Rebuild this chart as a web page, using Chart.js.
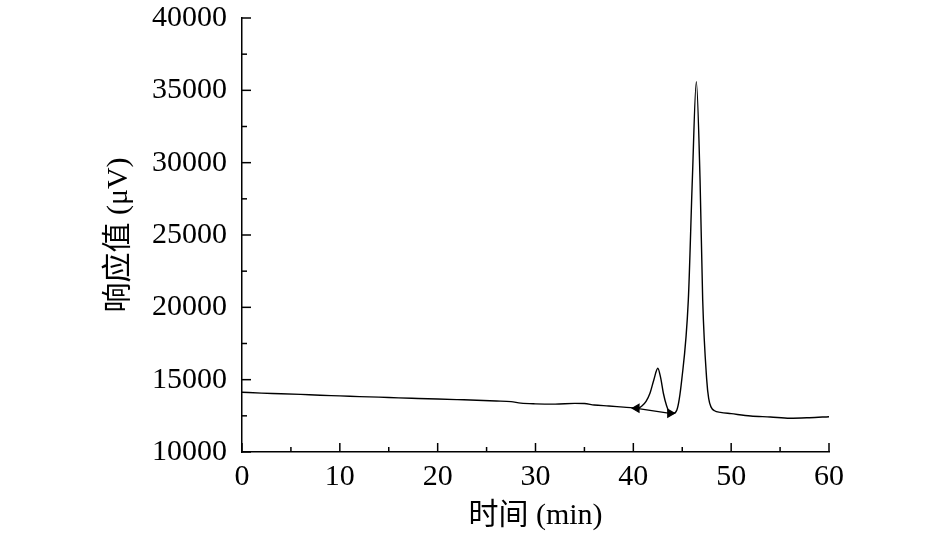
<!DOCTYPE html>
<html><head><meta charset="utf-8">
<script src="https://cdn.jsdelivr.net/npm/chart.js@4.4.0/dist/chart.umd.min.js"></script>
<style>html,body{margin:0;padding:0;background:#fff;}#wrap{width:945px;height:537px;}</style>
</head><body><div id="wrap"><canvas id="c" width="945" height="537"></canvas></div>
<script>
const times = [0,2,4,6,8,10,12,14,16,18,20,22,24,26,27.5,28.5,30,32,34,35,36,37.5,39,40,40.5,40.9,41.3,41.7,42.1,42.5,42.8,43.07,43.4,43.75,44.06,44.45,44.95,45.62,46.03,46.44,46.82,47.09,47.5,47.7,47.95,48.3,48.9,50,52,54,56,58,60];
const response = [14130,14070,14030,13980,13920,13880,13830,13790,13740,13700,13660,13620,13580,13530,13480,13380,13330,13310,13360,13350,13250,13180,13100,13050,13040,13200,13500,14060,15000,15790,15100,14060,13200,12700,12660,12900,15000,20500,28800,35600,28800,20500,15000,13700,13100,12850,12740,12650,12490,12420,12330,12370,12440];
const dropTimes = [40.35, 43.75];
const dropValues = [13020, 12675];
const xTicks = [0,10,20,30,40,50,60];
const yTicks = [10000,15000,20000,25000,30000,35000,40000];
const xMinor = [5,15,25,35,45,55];
const yMinor = [12500,17500,22500,27500,32500,37500];

const FONT = "'Liberation Serif', 'Noto Sans CJK SC', serif";

const innerTicks = {
  id: 'innerTicks',
  afterDraw(chart) {
    const ctx = chart.ctx, xs = chart.scales.x, ys = chart.scales.y;
    ctx.save();
    ctx.strokeStyle = '#000';
    ctx.lineWidth = 1.5;
    const y0 = ys.bottom, x0 = xs.left;
    const drawX = (v, len) => { const p = xs.getPixelForValue(v); ctx.beginPath(); ctx.moveTo(p, y0); ctx.lineTo(p, y0 - len); ctx.stroke(); };
    const drawY = (v, len) => { const p = ys.getPixelForValue(v); ctx.beginPath(); ctx.moveTo(x0, p); ctx.lineTo(x0 + len, p); ctx.stroke(); };
    xTicks.forEach(v => drawX(v, 9));
    xMinor.forEach(v => drawX(v, 5));
    yTicks.forEach(v => drawY(v, 9));
    yMinor.forEach(v => drawY(v, 5));
    ctx.restore();
  }
};

new Chart(document.getElementById('c'), {
  type: 'line',
  data: {
    datasets: [{
      data: times.map((t, i) => ({x: t, y: response[i]})),
      borderColor: '#000', borderWidth: 1.4, pointRadius: 0, fill: false,
      cubicInterpolationMode: 'monotone'
    }, {
      data: dropTimes.map((t, i) => ({x: t, y: dropValues[i]})),
      borderColor: '#000', backgroundColor: '#000', borderWidth: 1.2,
      pointStyle: 'triangle', pointRadius: 4.5, pointRotation: [-90, 90], fill: false
    }]
  },
  plugins: [innerTicks],
  options: {
    responsive: false, animation: false,
    layout: { padding: { top: 0, right: 116, left: 0, bottom: 0 } },
    plugins: { legend: { display: false }, tooltip: { enabled: false } },
    scales: {
      x: {
        type: 'linear', min: 0, max: 60,
        afterBuildTicks: s => { s.ticks = xTicks.map(v => ({value: v})); },
        afterFit: s => { s.height = 85; s.paddingLeft = 0; s.paddingRight = 0; },
        grid: { display: true, drawOnChartArea: false, drawTicks: false },
        border: { display: true, color: '#000', width: 1.5 },
        ticks: { color: '#000', font: { family: FONT, size: 30 }, padding: 7, maxRotation: 0, callback: v => String(v) },
        title: { display: true, text: '时间 (min)', color: '#000', font: { family: FONT, size: 30 }, padding: { top: 0, bottom: 3 } }
      },
      y: {
        type: 'linear', min: 10000, max: 40000,
        afterBuildTicks: s => { s.ticks = yTicks.map(v => ({value: v})); },
        afterFit: s => { s.width = 242; s.paddingTop = 18; s.paddingBottom = 0; },
        grid: { display: true, drawOnChartArea: false, drawTicks: false },
        border: { display: true, color: '#000', width: 1.5 },
        ticks: { color: '#000', font: { family: FONT, size: 30 }, padding: 15, callback: v => String(v) },
        title: { display: true, text: '响应值 (μV)', color: '#000', font: { family: FONT, size: 30 }, padding: { top: 101, bottom: 0 } }
      }
    }
  }
});
</script></body></html>
